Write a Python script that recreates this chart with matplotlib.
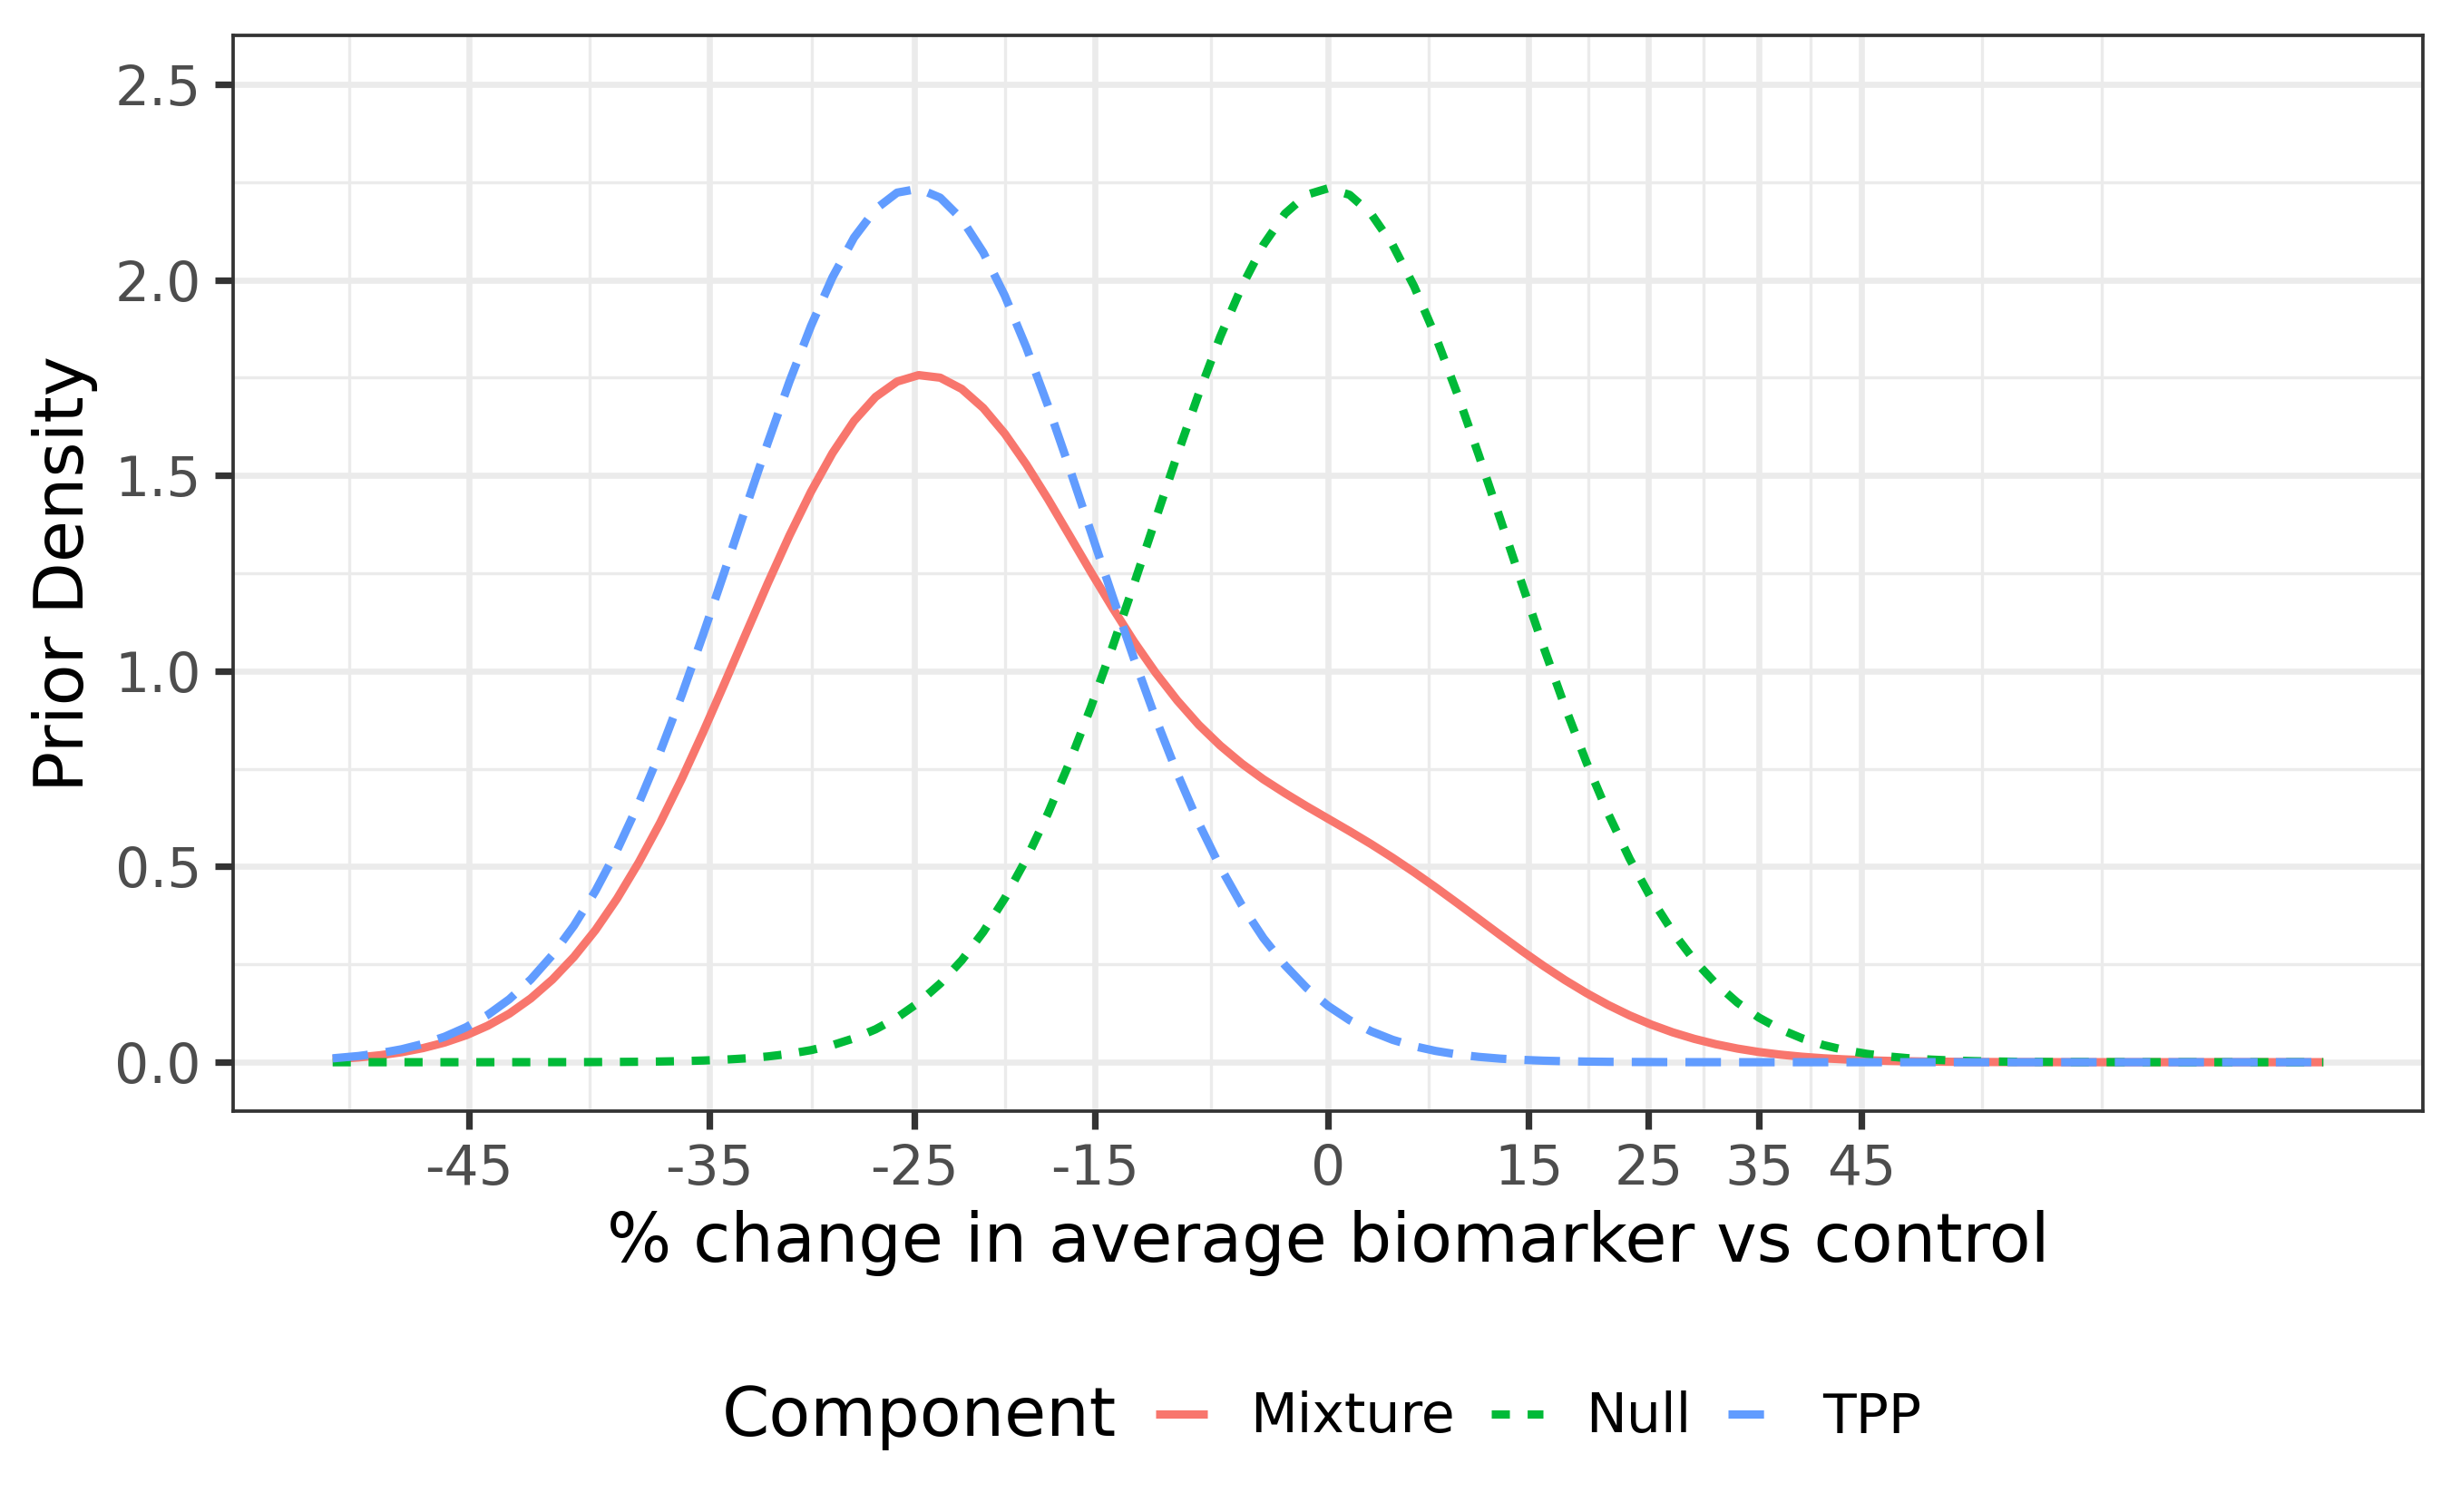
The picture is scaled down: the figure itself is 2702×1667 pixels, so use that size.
import numpy as np
import matplotlib
matplotlib.use("Agg")
import matplotlib.pyplot as plt

# ---- data ----
# x: log ratio (treatment / control); axis labelled in % change
log_ratio = [
    -0.693, -0.675, -0.66, -0.645, -0.63, -0.615, -0.60, -0.585, -0.57, -0.555,
    -0.54, -0.525, -0.51, -0.495, -0.48, -0.465, -0.45, -0.435, -0.42, -0.405,
    -0.39, -0.375, -0.36, -0.345, -0.33, -0.315, -0.30, -0.285, -0.27, -0.255,
    -0.24, -0.225, -0.21, -0.195, -0.18, -0.165, -0.15, -0.135, -0.12, -0.105,
    -0.09, -0.075, -0.06, -0.045, -0.03, -0.015, 0.0, 0.015, 0.03, 0.045,
    0.06, 0.075, 0.09, 0.105, 0.12, 0.135, 0.15, 0.165, 0.18, 0.195,
    0.21, 0.225, 0.24, 0.255, 0.27, 0.285, 0.30, 0.315, 0.33, 0.345,
    0.36, 0.375, 0.39, 0.405, 0.42, 0.435, 0.45, 0.465, 0.48, 0.51,
    0.54, 0.57, 0.60, 0.63, 0.66, 0.693]

mixture = [
    0.0076, 0.0122, 0.0178, 0.0255, 0.0361, 0.0503, 0.0690, 0.0933, 0.1241, 0.1632,
    0.2113, 0.2692, 0.3378, 0.4181, 0.5099, 0.6120, 0.7238, 0.8442, 0.9699, 1.0980,
    1.2247, 1.3461, 1.4581, 1.5571, 1.6393, 1.7007, 1.7400, 1.7565, 1.7499, 1.7211,
    1.6723, 1.6066, 1.5277, 1.4398, 1.3465, 1.2527, 1.1615, 1.0747, 0.9956, 0.9249,
    0.8625, 0.8094, 0.7633, 0.7232, 0.6879, 0.6545, 0.6226, 0.5907, 0.5576, 0.5226,
    0.4856, 0.4469, 0.4067, 0.3659, 0.3249, 0.2847, 0.2462, 0.2099, 0.1766, 0.1464,
    0.1196, 0.0963, 0.0763, 0.0597, 0.0460, 0.0349, 0.0261, 0.0193, 0.0140, 0.0100,
    0.0071, 0.0049, 0.0034, 0.0023, 0.0015, 0.0010, 0.0006, 0.0004, 0.0003, 0.0001,
    0.0, 0.0, 0.0, 0.0, 0.0, 0.0]

null = [
    0.0, 0.0, 0.0, 0.0, 0.0, 0.0, 0.0, 0.0, 0.0001, 0.0001,
    0.0002, 0.0002, 0.0004, 0.0007, 0.0011, 0.0018, 0.0028, 0.0043, 0.0066, 0.0099,
    0.0147, 0.0214, 0.0308, 0.0437, 0.0611, 0.0841, 0.114, 0.1525, 0.201, 0.2604,
    0.333, 0.4192, 0.520, 0.6358, 0.766, 0.9084, 1.062, 1.2232, 1.388, 1.5518,
    1.709, 1.855, 1.983, 2.0894, 2.169, 2.2174, 2.234, 2.2174, 2.169, 2.0894,
    1.983, 1.855, 1.709, 1.5518, 1.388, 1.2232, 1.062, 0.9084, 0.766, 0.6358,
    0.520, 0.4192, 0.333, 0.2604, 0.201, 0.1525, 0.114, 0.0841, 0.0611, 0.0437,
    0.0308, 0.0214, 0.0147, 0.0099, 0.0066, 0.0043, 0.0028, 0.0018, 0.0011, 0.0004,
    0.0002, 0.0001, 0.0, 0.0, 0.0, 0.0]

tpp = [
    0.0099, 0.0158, 0.0231, 0.0331, 0.0468, 0.0652, 0.0895, 0.1210, 0.161, 0.2117,
    0.274, 0.3490, 0.438, 0.5420, 0.661, 0.7932, 0.938, 1.0937, 1.256, 1.4211,
    1.584, 1.7396, 1.882, 2.0066, 2.108, 2.1808, 2.223, 2.233, 2.210, 2.1550,
    2.070, 1.9593, 1.827, 1.6786, 1.519, 1.3550, 1.191, 1.0306, 0.879, 0.7386,
    0.611, 0.4988, 0.401, 0.3174, 0.248, 0.1903, 0.144, 0.1075, 0.079, 0.0572,
    0.0408, 0.0287, 0.0199, 0.0136, 0.0091, 0.0060, 0.0039, 0.0025, 0.0016, 0.0010,
    0.0006, 0.0004, 0.0002, 0.0001, 0.0001, 0.0, 0.0, 0.0, 0.0, 0.0,
    0.0, 0.0, 0.0, 0.0, 0.0, 0.0, 0.0, 0.0, 0.0, 0.0,
    0.0, 0.0, 0.0, 0.0, 0.0, 0.0]

components = ["Mixture", "Null", "TPP"]
pct_breaks = [-45, -35, -25, -15, 0, 15, 25, 35, 45]
pct_labels = ["-45", "-35", "-25", "-15", "0", "15", "25", "35", "45"]
y_breaks = [0.0, 0.5, 1.0, 1.5, 2.0, 2.5]
y_labels = ["0.0", "0.5", "1.0", "1.5", "2.0", "2.5"]

# ---- style ----
plt.rcParams["font.family"] = ["DejaVu Sans"]
plt.rcParams["lines.scale_dashes"] = False

W, H = 2702, 1667
fig = plt.figure(figsize=(W / 300, H / 300), dpi=300)
L, R, T, B = 257, 2671, 39, 1225
ax = fig.add_axes([L / W, 1 - B / H, (R - L) / W, (B - T) / H])

colors = {"Mixture": "#F8766D", "Null": "#00BA38", "TPP": "#619CFF"}
lw = 2.2
h_mix, = ax.plot(log_ratio, mixture, color=colors["Mixture"], lw=lw,
                 solid_capstyle="butt", solid_joinstyle="round",
                 label="Mixture", zorder=3)
h_null, = ax.plot(log_ratio, null, color=colors["Null"], lw=lw,
                  dashes=(4.8, 4.7), dash_capstyle="butt", label="Null", zorder=4)
h_tpp, = ax.plot(log_ratio, tpp, color=colors["TPP"], lw=lw,
                 dashes=(9.4, 4.8), dash_capstyle="butt", label="TPP", zorder=5)

# scales
xmax = max(abs(log_ratio[0]), abs(log_ratio[-1]))
ax.set_xlim(-xmax * 1.1, xmax * 1.1)
ax.set_ylim(-0.125, 2.625)

xb = np.log1p(np.array(pct_breaks) / 100.0)
ax.set_xticks(xb)
ax.set_xticklabels(pct_labels)
# ggplot-style minor breaks (midpoints, extended by first step)
bd = xb[1] - xb[0]
ext = np.concatenate([[xb[0] - bd], xb, [xb[-1] + bd]])
xminor = list((ext[:-1] + ext[1:]) / 2) + [xb[-1] + bd]
lo, hi = ax.get_xlim()
xminor = [v for v in xminor if lo <= v <= hi]
ax.set_xticks(xminor, minor=True)

ax.set_yticks(y_breaks)
ax.set_yticklabels(y_labels)
yminor = [0.25, 0.75, 1.25, 1.75, 2.25]
ax.set_yticks(yminor, minor=True)

ax.set_axisbelow(True)
ax.grid(which="major", color="#EBEBEB", lw=1.6)
ax.grid(which="minor", color="#EBEBEB", lw=0.8)

for s in ax.spines.values():
    s.set_color("#333333")
    s.set_linewidth(0.9)

ax.tick_params(which="major", direction="out", length=4.8, width=1.75,
               color="#333333", labelsize=14.4, labelcolor="#4D4D4D", pad=3.6)
ax.tick_params(which="minor", length=0, width=0)

ax.set_xlabel("% change in average biomarker vs control", fontsize=18,
              color="black", labelpad=3.6)
ax.set_ylabel("Prior Density", fontsize=18, color="black", labelpad=4.5)

# legend (bottom, title on the left)
fig.text(796 / W, 1 - 1583 / H, "Component", fontsize=18, ha="left",
         va="baseline", color="black")
fig.legend([h_mix, h_null, h_tpp], components, loc="center left",
           bbox_to_anchor=(1274 / W, 1 - 1563 / H), ncol=3, frameon=False,
           fontsize=14.4, handlelength=0.95, handletextpad=0.78,
           columnspacing=0.68, borderpad=0, borderaxespad=0)

fig.savefig("out.png", dpi=300, facecolor="white")
